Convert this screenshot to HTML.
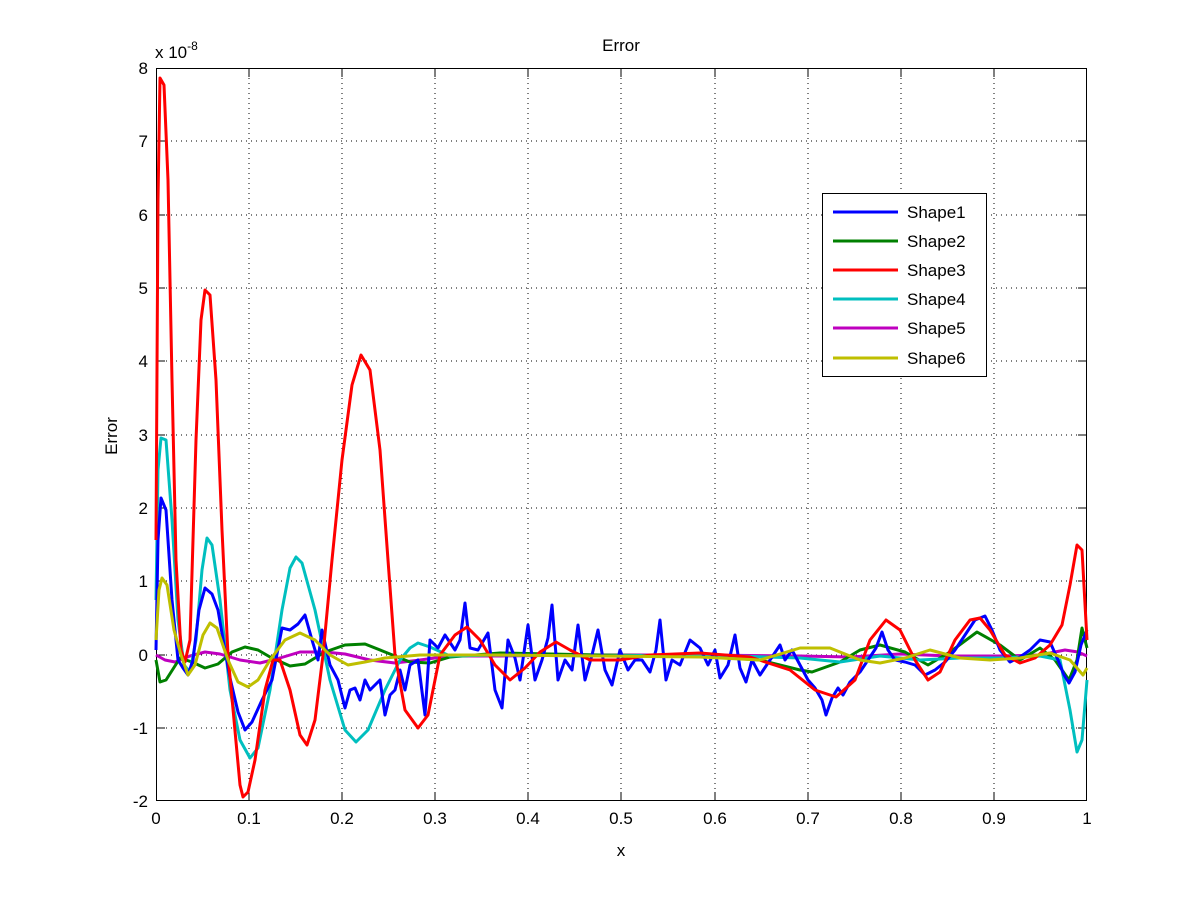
<!DOCTYPE html>
<html><head><style>body{margin:0;background:#fff}svg{display:block}</style></head><body>
<svg width="1201" height="901" viewBox="0 0 1201 901" xmlns="http://www.w3.org/2000/svg" font-family="Liberation Sans, sans-serif">
<rect width="1201" height="901" fill="#fff"/>
<rect x="156" y="68" width="931" height="733" fill="#fff"/>
<g stroke="#000" stroke-width="1" stroke-dasharray="1,4" fill="none">
<path d="M249,68V801M342,68V801M435,68V801M528,68V801M621,68V801M715,68V801M808,68V801M901,68V801M994,68V801"/>
<path d="M156,141H1087M156,215H1087M156,288H1087M156,361H1087M156,435H1087M156,508H1087M156,581H1087M156,655H1087M156,728H1087"/>
</g>
<g stroke="#000" stroke-width="1" fill="none">
<rect x="156.5" y="68.5" width="930" height="732"/>
<path d="M249,801v-9M342,801v-9M435,801v-9M528,801v-9M621,801v-9M715,801v-9M808,801v-9M901,801v-9M994,801v-9M249,68v9M342,68v9M435,68v9M528,68v9M621,68v9M715,68v9M808,68v9M901,68v9M994,68v9"/>
<path d="M156,141h9M156,215h9M156,288h9M156,361h9M156,435h9M156,508h9M156,581h9M156,655h9M156,728h9M1087,141h-9M1087,215h-9M1087,288h-9M1087,361h-9M1087,435h-9M1087,508h-9M1087,581h-9M1087,655h-9M1087,728h-9"/>
</g>
<g fill="none" stroke-width="3" stroke-linejoin="round">
<polyline stroke="#bf00bf" points="156,655 165,660 175,662 190,656 205,652 220,654 240,660 260,663 280,658 300,652 325,652 345,654 370,660 395,663 420,660 450,656 500,656 600,655 700,655 800,656 850,657 900,654 950,656 1000,656 1040,655 1065,650 1078,652 1087,656"/>
<polyline stroke="#008000" points="156,660 160,682 166,680 180,658 192,662 205,668 218,664 232,652 245,647 258,650 270,657 290,666 305,664 325,652 345,645 365,644 385,652 410,662 430,663 450,657 500,653 600,655 700,656 760,660 800,670 812,672 840,662 860,650 880,645 905,652 928,665 950,652 977,632 1000,645 1020,660 1040,648 1055,660 1069,680 1077,660 1082,628 1087,648"/>
<polyline stroke="#00bfbf" points="156,600 158,470 161,438 166,440 172,520 178,620 184,665 190,672 196,640 202,570 207,538 212,545 220,600 230,690 240,740 250,758 258,748 270,690 282,610 290,568 296,557 302,563 315,610 330,680 345,730 356,742 368,730 385,690 400,660 410,648 418,643 430,647 450,656 500,655 600,656 700,655 800,658 840,662 880,656 920,660 960,658 1000,658 1040,656 1060,660 1070,710 1077,752 1082,740 1087,680"/>
<polyline stroke="#0000ff" points="156,650 158,540 161,498 166,510 172,600 178,660 183,668 188,675 193,660 199,610 205,588 212,594 218,610 224,645 230,678 238,712 245,730 252,722 262,700 272,680 282,628 290,630 298,624 305,615 312,640 318,660 322,630 330,665 338,680 345,708 350,690 355,688 360,700 365,680 370,690 375,685 380,680 385,715 390,695 395,690 400,670 405,690 410,665 418,660 425,715 430,640 438,648 445,635 455,650 460,640 465,603 470,648 478,650 488,633 495,690 502,708 508,640 515,658 520,680 528,625 535,680 542,660 548,638 552,605 558,680 565,660 572,670 578,625 585,680 592,655 598,630 605,670 612,685 620,650 628,670 635,660 642,660 650,672 656,650 660,620 666,680 672,660 680,665 690,640 700,648 708,665 715,650 720,678 728,665 735,635 740,668 746,682 752,660 760,675 770,660 780,645 785,660 792,650 800,665 808,680 815,688 822,700 826,715 832,698 838,688 843,695 850,682 860,672 868,660 876,648 882,632 888,650 895,660 905,662 915,665 925,675 935,670 945,662 955,650 965,635 975,620 985,616 992,630 1000,650 1010,662 1020,657 1030,650 1040,640 1050,642 1058,660 1064,675 1069,683 1075,672 1081,645 1087,630"/>
<polyline stroke="#ff0000" points="156,540 158,200 160,78 164,85 168,180 172,380 176,560 181,650 185,662 190,640 196,440 201,320 205,290 210,295 216,380 222,530 228,655 234,720 240,785 243,797 248,792 255,760 265,690 273,660 280,660 290,690 300,735 307,745 315,720 323,655 332,560 342,460 352,385 361,355 370,370 380,450 388,560 395,655 405,710 418,728 428,715 440,655 455,635 467,627 480,640 495,665 510,680 525,668 540,652 556,642 570,650 590,660 620,660 650,655 700,653 750,657 790,670 815,690 836,697 855,680 870,640 886,620 900,630 915,660 928,680 940,672 955,640 970,620 980,618 990,630 1005,655 1020,663 1035,658 1050,645 1062,625 1070,585 1077,545 1082,550 1087,640"/>
<polyline stroke="#bfbf00" points="156,640 159,590 162,578 167,585 174,630 181,655 188,675 195,665 203,635 210,623 217,628 228,660 238,682 248,687 258,680 270,660 285,640 300,633 315,640 330,655 348,665 365,662 385,658 420,655 500,655 600,656 700,657 760,660 800,648 830,648 860,660 880,663 905,658 930,650 960,658 990,660 1020,658 1050,653 1070,660 1083,675 1087,668"/>
</g>
<rect x="822.5" y="193.5" width="164" height="183" fill="#fff" stroke="#000"/>
<g stroke-width="3">
<path d="M833,212h65" stroke="#0000ff"/><path d="M833,241h65" stroke="#008000"/><path d="M833,270h65" stroke="#ff0000"/>
<path d="M833,299h65" stroke="#00bfbf"/><path d="M833,328h65" stroke="#bf00bf"/><path d="M833,358h65" stroke="#bfbf00"/>
</g>
<g font-size="17" fill="#000">
<text x="907" y="218">Shape1</text><text x="907" y="247">Shape2</text><text x="907" y="276">Shape3</text>
<text x="907" y="305">Shape4</text><text x="907" y="334">Shape5</text><text x="907" y="364">Shape6</text>
</g>
<g font-size="17" fill="#000" text-anchor="end">
<text x="148" y="74">8</text><text x="148" y="147">7</text><text x="148" y="221">6</text><text x="148" y="294">5</text><text x="148" y="367">4</text><text x="148" y="441">3</text><text x="148" y="514">2</text><text x="148" y="587">1</text><text x="148" y="661">0</text><text x="148" y="734">-1</text><text x="148" y="807">-2</text>
</g>
<g font-size="17" fill="#000" text-anchor="middle">
<text x="156" y="824">0</text><text x="249" y="824">0.1</text><text x="342" y="824">0.2</text><text x="435" y="824">0.3</text><text x="528" y="824">0.4</text><text x="621" y="824">0.5</text><text x="715" y="824">0.6</text><text x="808" y="824">0.7</text><text x="901" y="824">0.8</text><text x="994" y="824">0.9</text><text x="1087" y="824">1</text>
<text x="621" y="51">Error</text>
<text x="621" y="856">x</text>
<text transform="translate(117,436) rotate(-90)">Error</text>
</g>
<text x="155" y="58" font-size="17">x 10<tspan dy="-8" font-size="12">-8</tspan></text>
</svg>
</body></html>
